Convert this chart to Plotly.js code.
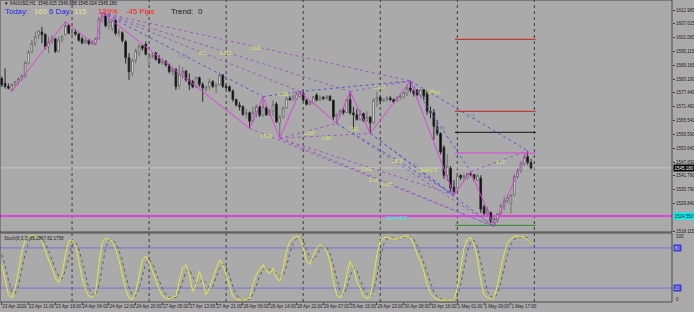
<!DOCTYPE html>
<html><head><meta charset="utf-8">
<script src="https://cdn.plot.ly/plotly-3.0.1.min.js"></script>
<style>html,body{margin:0;padding:0;background:#aaaaaa;}#chart{width:694px;height:312px;}</style>
</head><body><div id="chart"></div>
<script>
// ---- categories ----
const days = ['23 Apr','24 Apr','27 Apr','28 Apr','29 Apr','30 Apr','1 May'];
const firstHour = [3,1,1,1,1,1,1];
const lastHour = 23;
const times = [];
days.forEach((d,k)=>{ for(let h=firstHour[k]; h<=lastHour; h++){ times.push(d+' '+String(h).padStart(2,'0')+':00'); } });

// ---- XAUUSD H1 candles ----
const open = [1583.6,1581.5,1580.1,1578.8,1581.0,1582.3,1583.5,1584.6,1590.2,1594.9,1598.7,1602.2,1603.5,1602.4,1597.2,1599.5,1600.6,1595.2,1600.1,1602.5,
1606.3,1603.0,1603.5,1602.6,1600.6,1598.8,1600.0,1598.5,1598.5,1600.8,1609.0,1610.5,1606.2,1605.1,1608.5,1603.0,1603.2,1599.3,1592.5,1585.8,
1591.5,1594.5,1597.5,1598.3,1590.0,1593.0,1594.5,1592.0,1590.3,1590.8,1589.4,1586.5,1587.5,1580.5,1585.5,1586.8,1583.0,1582.2,1580.0,1584.0,
1581.0,1579.0,1580.0,1582.2,1580.2,1581.0,1585.0,1580.2,1580.0,1578.2,1574.5,1572.2,1571.5,1568.2,1568.9,1565.5,1569.0,1571.5,1567.8,1571.0,
1568.0,1569.5,1572.5,1564.5,1567.0,1571.0,1575.0,1574.5,1574.8,1575.8,1577.2,1574.3,1572.5,1573.0,1576.5,1574.3,1575.5,1575.0,1576.0,1574.2,
1567.2,1568.3,1569.8,1569.0,1574.5,1568.8,1568.0,1566.0,1568.5,1565.5,1567.0,1564.5,1574.3,1575.5,1574.0,1574.5,1575.2,1574.5,1573.8,1575.5,
1575.5,1577.0,1579.5,1578.5,1578.6,1576.5,1578.7,1577.5,1569.5,1569.0,1563.0,1560.0,1554.0,1542.0,1545.0,1537.0,1536.5,1542.0,1541.0,1540.8,
1542.8,1542.3,1540.0,1540.8,1528.5,1525.7,1526.0,1522.0,1522.5,1525.5,1529.0,1531.0,1530.0,1533.5,1541.5,1544.0,1547.0,1550.0,1547.5];
const high = [1584.4,1587.9,1581.5,1581.5,1582.6,1584.0,1585.3,1591.0,1595.8,1600.1,1603.7,1604.4,1605.8,1603.0,1601.5,1602.2,1601.0,1601.5,1602.2,1608.0,
1607.0,1604.4,1604.7,1603.0,1601.5,1601.0,1600.6,1600.0,1601.2,1610.1,1611.8,1611.3,1609.5,1609.0,1609.0,1605.0,1603.8,1600.0,1594.5,1592.2,
1596.5,1598.3,1598.0,1599.5,1593.6,1594.4,1595.1,1593.6,1592.2,1591.5,1590.0,1588.6,1588.0,1589.4,1588.6,1587.2,1585.8,1583.0,1584.4,1584.4,
1582.0,1580.5,1583.6,1582.9,1581.5,1586.2,1585.5,1581.0,1580.6,1578.9,1575.0,1573.5,1572.0,1570.6,1569.4,1571.5,1572.5,1572.0,1575.8,1571.5,
1570.5,1574.3,1573.5,1567.9,1571.5,1575.8,1576.0,1576.5,1577.9,1578.0,1577.8,1574.8,1574.3,1576.0,1577.2,1576.5,1576.0,1576.5,1576.3,1574.5,
1568.5,1570.5,1571.0,1575.0,1578.0,1571.5,1570.5,1570.0,1569.0,1569.5,1567.5,1575.0,1578.0,1576.0,1575.0,1576.0,1576.0,1575.0,1576.0,1576.8,
1578.0,1581.0,1582.5,1579.0,1579.0,1579.0,1579.0,1578.0,1571.5,1570.5,1565.8,1560.5,1555.0,1551.0,1546.0,1540.0,1542.5,1542.5,1542.5,1543.0,
1543.6,1542.5,1542.5,1542.0,1529.5,1528.5,1526.5,1524.0,1526.0,1530.0,1533.0,1533.5,1534.0,1542.5,1545.0,1548.0,1551.0,1552.6,1549.0];
const low = [1580.0,1579.3,1578.9,1577.9,1580.0,1580.8,1582.6,1583.9,1589.5,1594.4,1597.5,1600.5,1598.7,1596.0,1594.4,1598.3,1594.4,1594.7,1599.0,1601.8,
1602.5,1601.6,1602.0,1599.3,1598.3,1598.3,1597.9,1598.0,1597.9,1600.2,1607.5,1605.5,1604.4,1604.0,1602.0,1601.5,1599.0,1590.0,1582.9,1584.5,
1590.0,1593.0,1595.4,1593.5,1588.6,1592.2,1591.2,1589.8,1589.4,1588.6,1585.8,1585.0,1578.6,1579.0,1583.5,1582.2,1578.6,1579.4,1579.4,1580.0,
1573.6,1578.0,1578.6,1579.4,1577.2,1580.5,1579.5,1579.0,1577.9,1573.6,1571.5,1569.9,1567.5,1566.5,1562.2,1564.5,1566.8,1567.0,1567.0,1567.5,
1567.5,1567.5,1564.5,1557.9,1566.5,1570.5,1574.0,1574.0,1574.3,1575.5,1573.8,1572.0,1572.0,1572.5,1573.8,1574.0,1574.3,1574.3,1573.8,1565.8,
1564.3,1567.2,1568.0,1568.6,1568.0,1561.5,1565.5,1565.5,1565.0,1565.0,1560.0,1564.0,1571.5,1572.5,1573.5,1573.8,1573.8,1572.8,1573.5,1574.5,
1575.0,1576.0,1577.5,1575.8,1576.0,1576.0,1574.3,1568.0,1566.5,1557.2,1559.0,1551.0,1540.5,1539.5,1535.0,1533.6,1536.0,1540.0,1539.5,1540.3,
1541.5,1539.5,1539.5,1526.0,1525.0,1525.0,1521.5,1520.0,1522.0,1525.0,1527.0,1530.0,1525.7,1533.0,1540.5,1543.0,1546.0,1546.5,1544.5];
const close = [1580.8,1580.1,1579.4,1581.0,1582.3,1583.5,1584.9,1590.4,1594.9,1598.7,1601.5,1604.0,1602.4,1597.2,1599.5,1600.6,1595.2,1600.1,1601.5,1606.3,
1603.0,1603.5,1602.6,1600.0,1598.8,1600.0,1598.5,1599.4,1600.8,1609.0,1610.5,1606.2,1608.0,1608.5,1603.0,1603.8,1599.8,1592.5,1586.5,1591.5,
1595.5,1597.5,1596.5,1594.0,1593.0,1593.5,1591.8,1590.3,1590.8,1589.4,1586.5,1587.5,1580.0,1585.5,1586.8,1583.0,1581.0,1580.0,1584.0,1581.0,
1579.5,1580.0,1582.2,1580.2,1580.8,1585.0,1580.2,1579.6,1578.2,1574.5,1572.2,1571.5,1568.2,1568.9,1565.2,1569.0,1571.5,1567.8,1571.5,1568.0,
1569.5,1572.5,1565.0,1567.0,1571.0,1575.0,1574.5,1576.0,1577.0,1577.5,1574.3,1572.5,1573.5,1575.8,1574.3,1575.5,1575.0,1576.0,1574.2,1567.0,
1568.3,1569.8,1569.0,1574.5,1568.8,1568.0,1566.0,1568.5,1565.5,1567.0,1564.5,1574.3,1575.5,1574.0,1574.5,1575.2,1574.5,1573.5,1575.5,1576.3,
1577.5,1579.5,1578.5,1577.0,1576.5,1578.7,1576.0,1569.5,1569.0,1563.0,1560.0,1552.0,1542.0,1546.0,1536.5,1535.0,1542.0,1541.0,1542.0,1542.8,
1542.3,1540.5,1542.0,1527.5,1525.7,1527.0,1522.2,1523.5,1525.5,1529.0,1531.0,1532.5,1533.5,1541.5,1544.0,1547.0,1550.0,1547.5,1545.18];

// ---- Stochastic (8,3,3) ----
const stochMain = [55,30,10,5,20,45,75,92,97,98,97,96,90,75,62,50,35,28,40,70,
90,92,85,60,35,18,8,6,12,55,88,95,92,90,78,62,40,18,5,3,
15,40,62,68,58,45,30,18,8,5,4,6,8,30,50,55,40,15,25,45,
30,10,20,35,50,62,55,40,22,8,3,2,2,3,5,25,40,48,55,45,
42,50,35,30,50,75,90,95,97,96,80,60,55,70,80,85,82,75,60,30,
10,5,15,40,60,50,30,20,8,5,6,35,70,90,95,96,95,93,94,96,
97,98,96,85,70,60,45,25,12,6,3,2,2,3,2,2,20,50,80,93,
96,85,65,30,10,6,4,6,25,50,72,88,94,97,98,97,96,92,85.2867];
const stochSignal = [70,55,32,15,12,23,47,71,88,96,97,97,94,87,76,62,49,38,34,46,
67,84,89,79,60,38,20,11,9,24,52,79,92,92,87,77,60,40,21,9,
8,19,39,57,63,57,44,31,19,10,6,5,6,15,29,45,48,37,27,28,
33,28,20,22,35,49,56,52,39,23,11,4,2,2,3,11,23,38,48,49,
47,46,42,38,38,52,72,87,94,96,91,79,65,62,68,78,82,81,72,55,
33,15,10,20,38,50,47,33,19,11,6,15,37,65,85,94,95,95,94,94,
96,97,97,93,84,72,58,43,27,14,7,4,2,2,2,2,8,24,50,74,
90,91,82,60,35,15,7,5,12,27,49,70,85,93,96,97,97,95,82.1758];
const stochLevels = [80,20];

// ---- zigzag swing points ----
const zzIdx = [3,19,28,30,74,78,83,89,100,104,110,122,135,140,147,157];
const zzPrice = [1577.9,1608.0,1597.9,1611.8,1562.2,1575.8,1557.9,1578.0,1564.3,1578.0,1560.0,1582.5,1533.6,1543.6,1520.0,1552.6];
// trend lines between swing points (pairs of swing numbers)
const purpleLinks = [[3,11],[3,9],[3,7],[9,11],[13,15],[4,14],[6,14],[6,12],[6,10],[6,8],[8,14]];
const blueLinks = [[3,5],[7,11],[11,15],[11,13],[8,12],[10,12],[10,14],[5,7]];

// ---- levels ----
const bidPrice = 1545.18;
const weeklyLevel = 1524.55;
const pivotNames = ['R2','R1','P','M','S1'];
const pivotLevels = [1600.39,1569.49,1560.48,1551.59,1520.56];

// ---- axis labels ----
const priceTickText = ['1612.965','1607.015','1601.065','1595.115','1589.165','1583.190','1577.440','1571.490','1565.540','1559.590','1553.640','1547.690','1541.790','1535.790','1529.840','1518.115'];

// ---- small indicator texts ----
const yText = ['0.5','0.618','1.000','1.618','1.188','1.507','0.69','1.382','1.272','2.618','1.902','3.18','3.618','DPivot','Weekly S','1.27'];
const yTextIdx = [60,67,76,79,84,92,97,105,113,118,109,111,115,129,127,149];
const yTextPrice = [1594.5,1594.4,1596.5,1558.6,1576.5,1560.0,1557.9,1561.5,1579.5,1547.9,1544.4,1540.0,1537.9,1577.5,1544.3,1547.4];
const gText = ['0.28','0.78','0.26','1.59','1.34'];
const gTextIdx = [54,140,131,123,124];
const gTextPrice = [1592.9,1567.2,1562.2,1546.2,1541.4];

// ---- header ----
const symbolLine = '\u25BC XAUUSD,H1  1546.615 1546.688 1545.024 1545.180';
const todayVal = 160, sixDayVal = 115, pctVal = '139%', pipsVal = -45, trendVal = 0;

// ================= build =================
const W = 672, H = 302;           // plot area size in px
const px = v => v / W;
const py = v => 1 - v / H;
const mainDom = [1 - 232 / H, 1];
const stochDom = [0, (H - 233) / H];
const FONT = 'Liberation Sans, Arial, sans-serif';

function linkTrace(links, color){
  const xs = [], ys = [];
  links.forEach(([a,b])=>{ xs.push(times[zzIdx[a]], times[zzIdx[b]], null); ys.push(zzPrice[a], zzPrice[b], null); });
  return {type:'scatter', mode:'lines', x:xs, y:ys, xaxis:'x', yaxis:'y', hoverinfo:'skip',
          line:{color:color, width:1, dash:'dot'}, showlegend:false};
}

const traces = [
  {type:'candlestick', x:times, open:open, high:high, low:low, close:close, xaxis:'x', yaxis:'y',
   increasing:{line:{color:'#6e6e6e', width:1}, fillcolor:'#ffffff'},
   decreasing:{line:{color:'#2a2a2a', width:1}, fillcolor:'#000000'},
   whiskerwidth:0, showlegend:false, hoverinfo:'skip'},
  linkTrace(purpleLinks, '#9a5cc0'),
  linkTrace(blueLinks, '#5a5ad2'),
  {type:'scatter', mode:'lines', x:zzIdx.map(i=>times[i]), y:zzPrice, xaxis:'x', yaxis:'y',
   line:{color:'#e040e0', width:1}, showlegend:false, hoverinfo:'skip'},
  {type:'scatter', mode:'lines', x:times, y:stochSignal, xaxis:'x', yaxis:'y2',
   line:{color:'#5e5e5e', width:1, dash:'dot'}, showlegend:false, hoverinfo:'skip'},
  {type:'scatter', mode:'lines', x:times, y:stochMain, xaxis:'x', yaxis:'y2',
   line:{color:'#e8e83a', width:1}, showlegend:false, hoverinfo:'skip'}
];

const shapes = [];
// day separators
const dayOf = t => t.split(' ').slice(0,2).join(' ');
const sepIdx = [];
for (let i=1;i<times.length;i++){ if (dayOf(times[i]) !== dayOf(times[i-1])) sepIdx.push(i); }
sepIdx.push(times.length);
sepIdx.forEach(i=>shapes.push({type:'line', xref:'x', yref:'paper', x0:i, x1:i, y0:0, y1:1, layer:'below',
  line:{color:'#3c3c3c', width:1, dash:'dot'}}));
// bid line
shapes.push({type:'line', xref:'paper', yref:'y', x0:0, x1:1, y0:bidPrice, y1:bidPrice, layer:'below', line:{color:'#c4c4c4', width:1}});
// weekly level
shapes.push({type:'line', xref:'paper', yref:'y', x0:0, x1:1, y0:weeklyLevel, y1:weeklyLevel, layer:'below', line:{color:'#e040e0', width:2}});
// daily pivots for the last day
const pivColors = ['#c81e1e','#c81e1e','#111111','#e040e0','#2e8a2e'];
const lastDayStart = sepIdx[sepIdx.length-2];
pivotLevels.forEach((v,k)=>shapes.push({type:'line', xref:'x', yref:'y', x0:lastDayStart-0.7, x1:times.length+0.4, y0:v, y1:v,
  line:{color:pivColors[k], width:1}}));
// stoch levels
stochLevels.forEach(v=>shapes.push({type:'line', xref:'paper', yref:'y2', x0:0, x1:1, y0:v, y1:v, layer:'below', line:{color:'#7474d6', width:1}}));
// panel borders
shapes.push({type:'rect', xref:'paper', yref:'paper', x0:0, x1:1, y0:mainDom[0], y1:1, line:{color:'#4a4a4a', width:1}});
shapes.push({type:'rect', xref:'paper', yref:'paper', x0:0, x1:1, y0:0, y1:stochDom[1], line:{color:'#4a4a4a', width:1}});

const ann = [];
function addText(text, x, y, color, size){
  ann.push({text:text, xref:'paper', yref:'paper', x:px(x), y:py(y), xanchor:'left', yanchor:'middle',
    showarrow:false, font:{family:FONT, size:size, color:color}});
}
addText(symbolLine, 2, 4, '#111111', 4.5);
addText('Today:', 3, 11.5, '#2a2ae8', 7.8);
addText(String(todayVal), 32, 11.5, '#e8e09a', 7.8);
addText('6 Day:', 47, 11.5, '#2a2ae8', 7.8);
addText(String(sixDayVal), 72, 11.5, '#e8e09a', 7.8);
addText(pctVal, 96, 11.5, '#ff2020', 7.8);
addText(pipsVal + ' Pips', 124, 11.5, '#ff2020', 7.8);
addText('Trend:', 169, 11.5, '#1a1a1a', 7.8);
addText(String(trendVal), 196, 11.5, '#1a1a1a', 7.8);
addText('Stoch(8,3,3) ' + stochMain[stochMain.length-1].toFixed(4) + ' ' + stochSignal[stochSignal.length-1].toFixed(4), 2, 238, '#1e1e1e', 4.5);

yText.forEach((t,k)=>ann.push({text:t, x:yTextIdx[k], y:yTextPrice[k], xref:'x', yref:'y', showarrow:false,
  font:{family:FONT, size:4.5, color:'#d6e85a'}}));
gText.forEach((t,k)=>ann.push({text:t, x:gTextIdx[k], y:gTextPrice[k], xref:'x', yref:'y', showarrow:false,
  font:{family:FONT, size:4.5, color:'#8a8aa8'}}));
ann.push({text:weeklyLevel.toFixed(4), x:118, y:weeklyLevel-0.9, xref:'x', yref:'y', showarrow:false,
  font:{family:FONT, size:4.5, color:'#30e8e8'}});

// right-side price boxes
ann.push({text:bidPrice.toFixed(3), xref:'paper', yref:'y', x:1, y:bidPrice, xanchor:'left', xshift:1, showarrow:false,
  bgcolor:'#000000', borderpad:0.5, font:{family:FONT, size:4.5, color:'#ffffff'}});
ann.push({text:weeklyLevel.toFixed(3), xref:'paper', yref:'y', x:1, y:weeklyLevel, xanchor:'left', xshift:1, showarrow:false,
  bgcolor:'#00f0f0', borderpad:0.5, font:{family:FONT, size:4.5, color:'#111111'}});
stochLevels.forEach(v=>ann.push({text:String(v), xref:'paper', yref:'y2', x:1, y:v, xanchor:'left', xshift:1, showarrow:false,
  bgcolor:'#3a3ad0', borderpad:0.5, font:{family:FONT, size:4.5, color:'#dcdcff'}}));
ann.push({text:'100', xref:'paper', yref:'y2', x:1, y:97, xanchor:'left', xshift:2, showarrow:false, font:{family:FONT, size:4.5, color:'#1e1e1e'}});
ann.push({text:'0', xref:'paper', yref:'y2', x:1, y:3, xanchor:'left', xshift:2, showarrow:false, font:{family:FONT, size:4.5, color:'#1e1e1e'}});

const tickIdx = times.map((t,i)=>i).filter(i=>i%8===0);
const tickvals = tickIdx.map(i=>times[i]);
const ticktext = tickIdx.map(i=> i===0 ? '23 Apr 2020' : times[i]);

const layout = {
  width:694, height:312,
  margin:{l:0, r:22, t:0, b:10, pad:0},
  paper_bgcolor:'#aaaaaa', plot_bgcolor:'#aaaaaa',
  showlegend:false,
  font:{family:FONT, size:5, color:'#1e1e1e'},
  xaxis:{type:'category', categoryorder:'array', categoryarray:times, range:[-0.51, 200.09], anchor:'y2',
    showgrid:false, zeroline:false, showline:false,
    rangeslider:{visible:false}, tickmode:'array', tickvals:tickvals, ticktext:ticktext, tickangle:0,
    ticks:'outside', ticklen:2, tickcolor:'#3a3a3a', ticklabelposition:'outside right',
    tickfont:{family:FONT, size:4.5, color:'#1e1e1e'}, fixedrange:true, automargin:false},
  yaxis:{domain:mainDom, range:[1517.69, 1617.26], side:'right', showgrid:false, zeroline:false, showline:false,
    tickmode:'array', tickvals:priceTickText.map(Number), ticktext:priceTickText, automargin:false,
    ticks:'outside', ticklen:2, tickcolor:'#3a3a3a', tickfont:{family:FONT, size:4.5, color:'#1e1e1e'}, fixedrange:true},
  yaxis2:{domain:stochDom, range:[-0.8, 102.3], side:'right', showgrid:false, zeroline:false, showline:false,
    showticklabels:false, ticks:'', fixedrange:true},
  shapes:shapes,
  annotations:ann
};

Plotly.newPlot('chart', traces, layout, {staticPlot:true, displayModeBar:false});
</script>
</body></html>
